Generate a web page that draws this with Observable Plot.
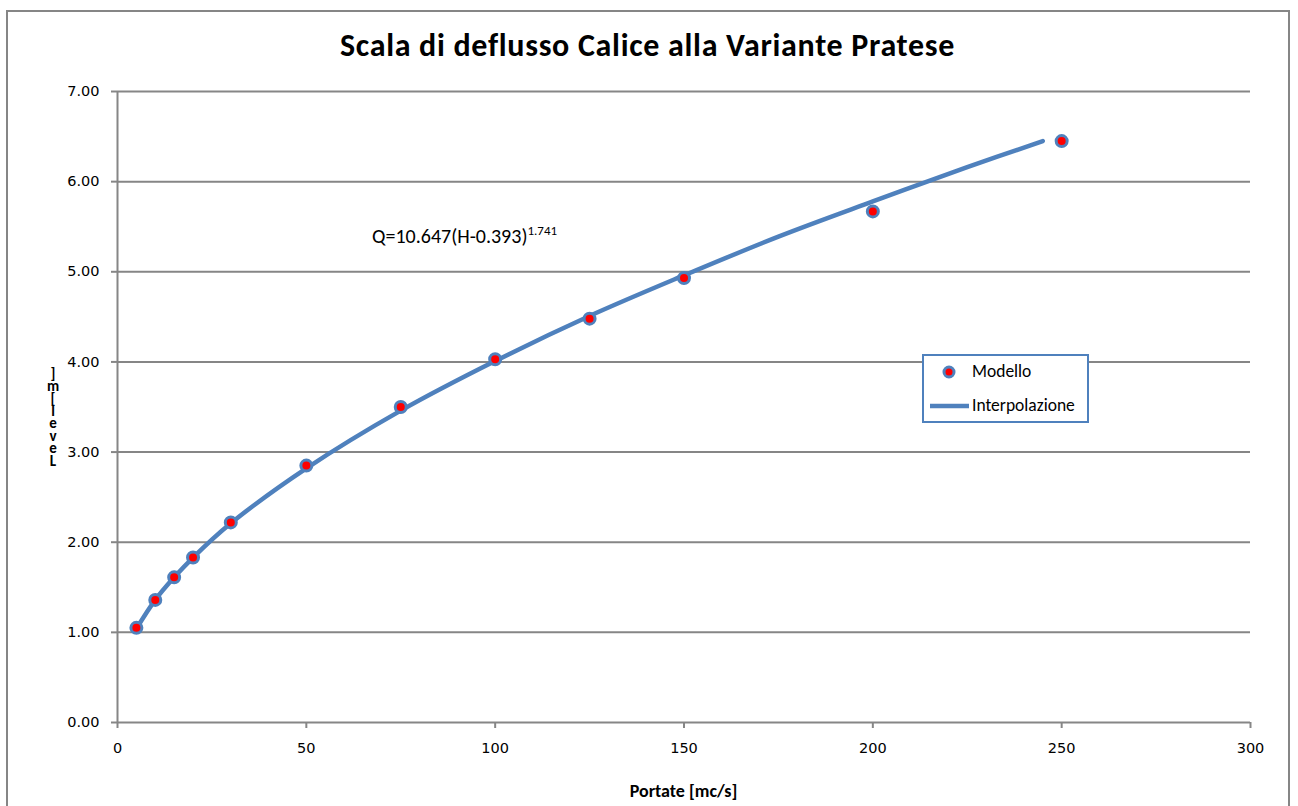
<!DOCTYPE html>
<html>
<head>
<meta charset="utf-8">
<script src="https://cdn.jsdelivr.net/npm/d3@7"></script>
<script src="https://cdn.jsdelivr.net/npm/@observablehq/plot@0.6"></script>
<style>
  html, body { margin: 0; padding: 0; background: #fff; }
  #wrap { position: relative; width: 1298px; height: 806px; overflow: hidden; }
  #frame { position: absolute; left: 6px; top: 10px; width: 1280px; height: 820px; border: 2px solid #868686; }
  #chart { position: absolute; left: 0; top: 0; }
  .cal { font-family: Carlito, Lato, "Open Sans", sans-serif; color: #000; }
  #title { position: absolute; left: 7px; width: 1281px; top: 26px; text-align: center; font-weight: bold; font-size: 32px; letter-spacing: 0.7px; line-height: 40px; }
  #xlabel { position: absolute; left: 117px; width: 1133px; top: 780px; text-align: center; font-weight: bold; font-size: 18px; line-height: 22px; }
  #ylabel { position: absolute; left: 45px; top: 364px; writing-mode: vertical-rl; text-orientation: upright; font-weight: bold; font-size: 15px; letter-spacing: -5.5px; line-height: 15px; white-space: pre; }
  #eq { position: absolute; left: 372px; top: 223px; font-size: 20px; line-height: 26px; white-space: nowrap; }
  #eq sup { font-size: 13px; vertical-align: 8px; line-height: 0; }
  #legend { position: absolute; left: 922px; top: 354px; width: 163px; height: 65px; border: 2px solid #4F81BD; background: #fff; }
  .lg { position: absolute; font-size: 17.5px; line-height: 22px; white-space: nowrap; }
</style>
</head>
<body>
<div id="wrap">
  <div id="frame"></div>
  <div id="chart"></div>
  <div id="title" class="cal">Scala di deflusso Calice alla Variante Pratese</div>
  <div id="xlabel" class="cal">Portate [mc/s]</div>
  <div id="ylabel" class="cal">]m[leveL</div>
  <div id="eq" class="cal">Q=10.647(H-0.393)<sup>1.741</sup></div>
  <div id="legend">
    <svg id="lgsvg" width="163" height="65" style="position:absolute;left:0;top:0"></svg>
    <div class="lg cal" style="left:48px;top:4px">Modello</div>
    <div class="lg cal" style="left:48px;top:38px">Interpolazione</div>
  </div>
</div>
<script>
// Measured points (Modello)
const portate = [5, 10, 15, 20, 30, 50, 75, 100, 125, 150, 200, 250];
const livelli = [1.05, 1.36, 1.61, 1.83, 2.22, 2.85, 3.50, 4.03, 4.48, 4.93, 5.67, 6.45];
// Interpolation curve
const fitPortate = [5, 10, 15, 20, 30, 50, 75, 100, 125, 150, 175, 200, 225, 245];
const fitLivelli = [1.04, 1.36, 1.61, 1.83, 2.21, 2.82, 3.46, 4.01, 4.51, 4.96, 5.39, 5.78, 6.16, 6.45];
// Tick labels
const xTicks = [0, 50, 100, 150, 200, 250, 300];
const yTicks = [0, 1, 2, 3, 4, 5, 6, 7];

const pts = portate.map((q, i) => ({q, h: livelli[i]}));
const fit = fitPortate.map((q, i) => ({q, h: fitLivelli[i]}));

const blue = "#4F81BD";
const grey = "#868686";

const chart = Plot.plot({
  width: 1298,
  height: 806,
  marginLeft: 117,
  marginRight: 48,
  marginTop: 91,
  marginBottom: 84,
  style: {fontFamily: "'DejaVu Sans', sans-serif", fontSize: "14.5px", color: "#000", background: "transparent"},
  x: {domain: [0, 300], label: null},
  y: {domain: [0, 7], label: null},
  marks: [
    Plot.ruleY(yTicks, {stroke: grey, strokeWidth: 2}),
    Plot.ruleX([0], {stroke: grey, strokeWidth: 2}),
    Plot.axisY({ticks: yTicks, tickFormat: d => d.toFixed(2), tickSize: 6, tickPadding: 12, stroke: grey, strokeWidth: 2, strokeOpacity: 1, fill: "#000", label: null}),
    Plot.axisX({ticks: xTicks, tickFormat: d => String(d), tickSize: 6, tickPadding: 14, stroke: grey, strokeWidth: 2, strokeOpacity: 1, fill: "#000", label: null}),
    Plot.line(fit, {x: "q", y: "h", stroke: blue, strokeWidth: 4.5, curve: "catmull-rom"}),
    Plot.dot(pts, {x: "q", y: "h", r: 5.5, fill: "red", stroke: blue, strokeWidth: 3})
  ]
});
document.getElementById("chart").appendChild(chart);

// Legend symbols
const lg = d3.select("#lgsvg");
lg.append("circle").attr("cx", 25).attr("cy", 16).attr("r", 5).attr("fill", "red").attr("stroke", blue).attr("stroke-width", 3);
lg.append("line").attr("x1", 6).attr("x2", 45).attr("y1", 50).attr("y2", 50).attr("stroke", blue).attr("stroke-width", 4.5);
</script>
</body>
</html>
